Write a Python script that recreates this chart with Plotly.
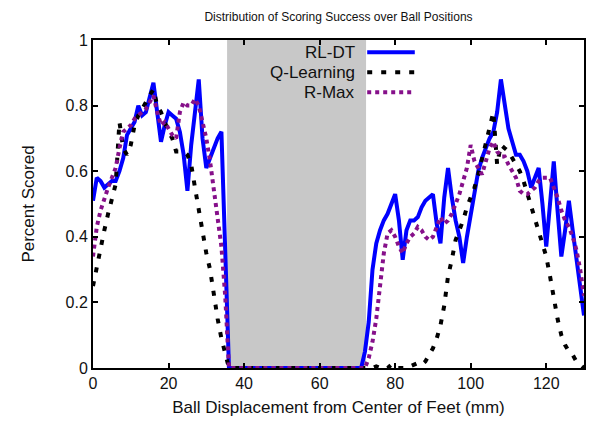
import plotly.graph_objects as go

# Ball displacement from the centre of the feet, in mm
displacement = list(range(0, 131))

# Fraction of kicks that scored at each displacement
rl_dt = [
    0.51, 0.58, 0.57, 0.55, 0.56, 0.57, 0.57, 0.60, 0.64, 0.71,
    0.73, 0.75, 0.80, 0.77, 0.78, 0.82, 0.87, 0.78, 0.69, 0.74,
    0.78, 0.77, 0.76, 0.72, 0.65, 0.54, 0.68, 0.78, 0.88, 0.70,
    0.61, 0.64, 0.67, 0.70, 0.72, 0.40, 0.00,
    0, 0, 0, 0, 0, 0, 0, 0, 0, 0, 0, 0, 0, 0, 0, 0, 0, 0, 0, 0,
    0, 0, 0, 0, 0, 0, 0, 0, 0, 0, 0, 0, 0, 0, 0,
    0.05, 0.14, 0.30, 0.38, 0.42, 0.45, 0.47, 0.50, 0.53, 0.45,
    0.33, 0.42, 0.45, 0.45, 0.46, 0.49, 0.51, 0.52, 0.53, 0.44,
    0.38, 0.52, 0.61, 0.52, 0.45, 0.40, 0.32, 0.40, 0.47, 0.54,
    0.60, 0.64, 0.67, 0.70, 0.72, 0.78, 0.88, 0.80, 0.73, 0.69,
    0.65, 0.65, 0.63, 0.60, 0.55, 0.58, 0.61, 0.50, 0.37, 0.50,
    0.63, 0.48, 0.34, 0.42, 0.51, 0.42, 0.33, 0.25, 0.16,
]

q_learning = [
    0.25, 0.31, 0.36, 0.42, 0.47, 0.51, 0.56, 0.75, 0.67, 0.65,
    0.68, 0.74, 0.77, 0.79, 0.81, 0.83, 0.85, 0.80, 0.78, 0.75,
    0.72, 0.70, 0.66, 0.66, 0.66, 0.65, 0.62, 0.55, 0.48, 0.41,
    0.35, 0.30, 0.22, 0.15, 0.09, 0.04, 0.00,
    0, 0, 0, 0, 0, 0, 0, 0, 0, 0, 0, 0, 0, 0, 0, 0, 0, 0, 0, 0,
    0, 0, 0, 0, 0, 0, 0, 0, 0, 0, 0, 0, 0, 0, 0,
    0.00, 0.00, 0.00, 0.005, 0.00, 0.005, 0.00, 0.01, 0.00, 0.00,
    0.00, 0.00, 0.005, 0.01, 0.015, 0.01, 0.02, 0.04, 0.06, 0.09,
    0.13, 0.19, 0.28, 0.33, 0.39, 0.42, 0.45, 0.49, 0.52, 0.55,
    0.59, 0.64, 0.68, 0.73, 0.78, 0.62, 0.68, 0.67, 0.66, 0.64,
    0.62, 0.60, 0.57, 0.53, 0.50, 0.45, 0.42, 0.38, 0.34, 0.28,
    0.21, 0.15, 0.10, 0.07, 0.05, 0.04, 0.02, 0.01, 0.00,
]

r_max = [
    0.34, 0.43, 0.48, 0.52, 0.55, 0.58, 0.61, 0.67, 0.72, 0.73,
    0.74, 0.76, 0.77, 0.78, 0.79, 0.81, 0.83, 0.78, 0.74, 0.75,
    0.73, 0.71, 0.70, 0.78, 0.81, 0.80, 0.80, 0.82, 0.80, 0.75,
    0.70, 0.63, 0.55, 0.47, 0.37, 0.22, 0.00,
    0, 0, 0, 0, 0, 0, 0, 0, 0, 0, 0, 0, 0, 0, 0, 0, 0, 0, 0, 0,
    0, 0, 0, 0, 0, 0, 0, 0, 0, 0, 0, 0, 0, 0, 0,
    0.00, 0.03, 0.08, 0.15, 0.24, 0.35, 0.41, 0.42, 0.40, 0.37,
    0.35, 0.38, 0.40, 0.41, 0.43, 0.42, 0.40, 0.39, 0.40, 0.43,
    0.46, 0.44, 0.45, 0.47, 0.50, 0.53, 0.57, 0.61, 0.68, 0.63,
    0.61, 0.59, 0.63, 0.67, 0.69, 0.66, 0.645, 0.645, 0.62, 0.60,
    0.58, 0.54, 0.53, 0.53, 0.54, 0.55, 0.57, 0.58, 0.58, 0.58,
    0.55, 0.52, 0.48, 0.45, 0.43, 0.40, 0.36, 0.30, 0.22,
]

x_ticks = [0, 20, 40, 60, 80, 100, 120]
y_ticks = [0, 0.2, 0.4, 0.6, 0.8, 1]

# Displacements that cannot be reached (shaded band)
blocked_from, blocked_to = 35.5, 72.3

BLUE = "#0000FF"
BLACK = "#000000"
PURPLE = "#86108A"
FONT = "Liberation Sans, Arial, Helvetica, sans-serif"
TEXT = "#111111"

series = [
    ("RL-DT", rl_dt, BLUE, "solid"),
    ("Q-Learning", q_learning, BLACK, "5px,9px"),
    ("R-Max", r_max, PURPLE, "4px,4px"),
]

fig = go.Figure()
for name, values, color, dash in series:
    fig.add_trace(go.Scatter(
        x=displacement, y=values, name=name, mode="lines",
        line=dict(color=color, width=4, dash=dash),
        showlegend=False,
    ))

shapes = [dict(
    type="rect", xref="x", yref="y", x0=blocked_from, x1=blocked_to, y0=0, y1=1,
    fillcolor="#C8C8C8", line=dict(width=0), layer="below",
)]

# Key in the upper part of the shaded band: label on the left, line sample on the right
annotations = []
key_rows = [0.963, 0.902, 0.841]
for (name, _, color, dash), ky in zip(series, key_rows):
    annotations.append(dict(
        x=69.9, y=ky, xref="x", yref="y", text=name, showarrow=False,
        xanchor="right", yanchor="middle",
        font=dict(family=FONT, size=17, color=TEXT),
    ))
    shapes.append(dict(
        type="line", xref="x", yref="y", x0=72.6, x1=85.2, y0=ky, y1=ky,
        line=dict(color=color, width=4, dash=dash), layer="above",
    ))

axis_common = dict(
    showline=True, linecolor="black", linewidth=2, mirror="ticks",
    ticks="inside", ticklen=5, tickwidth=1.5, tickcolor="black",
    showgrid=False, zeroline=False,
    tickfont=dict(family=FONT, size=16, color=TEXT),
)

fig.update_layout(
    width=589, height=422,
    margin=dict(l=93, r=3, t=40, b=54),
    paper_bgcolor="white", plot_bgcolor="white",
    font=dict(family=FONT, color=TEXT),
    title=dict(
        text="Distribution of Scoring Success over Ball Positions",
        x=0.5, xref="paper", y=1 - 17 / 422, yref="container",
        xanchor="center", yanchor="middle",
        font=dict(family=FONT, size=12, color=TEXT),
    ),
    xaxis=dict(
        range=[0, 130], tickvals=x_ticks,
        title=dict(text="Ball Displacement from Center of Feet (mm)",
                   font=dict(family=FONT, size=17, color=TEXT), standoff=10),
        **axis_common,
    ),
    yaxis=dict(
        range=[0, 1], tickvals=y_ticks,
        title=dict(text="Percent Scored",
                   font=dict(family=FONT, size=17, color=TEXT), standoff=27),
        **axis_common,
    ),
    shapes=shapes,
    annotations=annotations,
)

fig.write_html("out.html")
